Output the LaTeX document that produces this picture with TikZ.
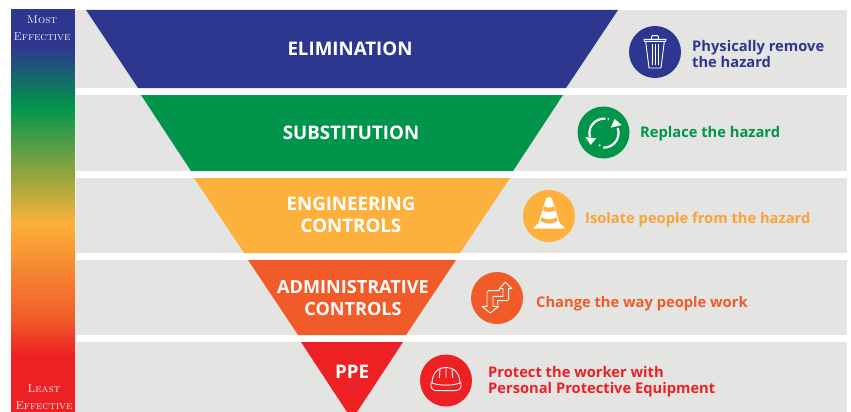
\documentclass[tikz,border=0pt]{standalone}
\usepackage{fontspec}
\usepackage{xcolor}
\newfontfamily\labelfont{Open Sans}
\usetikzlibrary{arrows.meta,positioning,calc}
\definecolor{elimblue}{HTML}{2E3790}
\definecolor{subgreen}{HTML}{00954A}
\definecolor{enggold}{HTML}{FDB03B}
\definecolor{admorange}{HTML}{F15A29}
\definecolor{ppered}{HTML}{ED2024}
\definecolor{bandgray}{HTML}{E4E4E3}
\pgfdeclareverticalshading{effectbar}{100bp}{
  color(0bp)=(ppered); color(32bp)=(ppered); color(36.5bp)=(admorange);
  color(48.5bp)=(enggold); color(63bp)=(subgreen);
  color(70.5bp)=(elimblue); color(100bp)=(elimblue)}

\begin{document}
\begin{tikzpicture}[
  x=1pt, y=-1pt,
  band/.style={fill=bandgray},
  title/.style={font=\labelfont\bfseries\fontsize{18.7}{22}\selectfont, text=white, align=center, inner sep=0pt},
  badge/.style={circle, minimum size=52pt, inner sep=0pt},
  action/.style={font=\labelfont\bfseries\fontsize{14.7}{16}\selectfont, align=left, anchor=west, inner sep=0pt},
  rank/.style={font=\rmfamily\scshape\fontsize{11.3}{17}\selectfont, text=white!90!gray, align=center, inner sep=0pt},
  icon/.style={draw=white, line width=.9pt, line join=round},
  zoomed/.style={shift={#1}, x=.3333pt, y=-.3333pt}
]
  \useasboundingbox (0,0) rectangle (851,412);
  \fill[white] (0,0) rectangle (851,412);

  % grey bands
  \fill[band] (76,10) rectangle (847,88);
  \fill[band] (76,95) rectangle (847,171);
  \fill[band] (76,178) rectangle (847,253);
  \fill[band] (76,260) rectangle (847,335);
  \fill[band] (76,342) rectangle (847,412);

  % left bar
  \path[shading=effectbar] (11,10) rectangle (75,412);
  \node[rank] (most) at (42,28) {Most\\Effective};
  \node[rank] (least) at (44,397) {Least\\Effective};

  % funnel
  \fill[elimblue] (86,10) -- (618,10) -- (566,88) -- (138,88) -- cycle;
  \fill[subgreen] (141,95) -- (563,95) -- (513,171) -- (191,171) -- cycle;
  \fill[enggold] (194,178) -- (510,178) -- (460,253) -- (244,253) -- cycle;
  \fill[admorange] (248,260) -- (456,260) -- (406,335) -- (298,335) -- cycle;
  \fill[ppered] (301,342) -- (403,342) -- (357,412) -- (347,412) -- cycle;

  \node[title] (elim) at (350,49) {ELIMINATION};
  \node[title] (subst) at (351,133) {SUBSTITUTION};
  \node[title] (eng) at (351,215) {ENGINEERING\\CONTROLS};
  \node[title, font=\labelfont\bfseries\fontsize{18.1}{22}\selectfont] (admin) at (353,298) {ADMINISTRATIVE\\CONTROLS};
  \node[title] (ppe) at (352,372) {PPE};

  % badges
  \node[badge, fill=elimblue] (trash) at (655,52) {};
  \node[badge, fill=subgreen] (cycle) at (603.5,132.5) {};
  \node[badge, fill=enggold] (cone) at (549,216) {};
  \node[badge, fill=admorange] (stairs) at (497,298) {};
  \node[badge, fill=ppered] (helmet) at (446,380.5) {};

  % actions
  \node[action, text=elimblue] (remove) at (692,54) {Physically remove\\the hazard};
  \node[action, text=subgreen] (replace) at (640,134) {Replace the hazard};
  \node[action, text=enggold!85!admorange] (isolate) at (585,220) {Isolate people from the hazard};
  \node[action, text=admorange] (change) at (536,304) {Change the way people work};
  \node[action, text=ppered] (protect) at (488,382) {Protect the worker with\\Personal Protective Equipment};

  % trash can
  \begin{scope}[zoomed={(625,22)}]
    \draw[icon] (57,52) -- (123,52) -- (122,58) -- (58,58) -- cycle;
    \draw[icon] (80,52) -- (80,44) -- (82,41) -- (98,41) -- (100,44) -- (100,52);
    \draw[icon] (62,58) -- (72,138) -- (108,138) -- (118,58);
    \draw[icon] (81,66) -- (81,128) (90,66) -- (90,128) (99,66) -- (99,128);
  \end{scope}

  % arrows going round
  \begin{scope}[zoomed={(574,103)}]
    \draw[icon, line width=2.2pt] (94,47) arc[start angle=-85, end angle=-195, radius=44];
    \draw[icon, line width=2.2pt] (88,134) arc[start angle=92, end angle=-20, radius=44];
    \fill[white] (34,102) -- (66,106) -- (50,126) -- cycle;
    \fill[white] (110,74) -- (143,66) -- (122,48) -- cycle;
    \fill[white] (103,48) circle (3) (77,127) circle (3);
  \end{scope}

  % traffic cone
  \begin{scope}[zoomed={(519,186)}]
    \fill[white] (80,42) .. controls (82,30) and (98,30) .. (100,42) -- (122,112)
      .. controls (124,118) and (136,120) .. (136,126) -- (136,128) -- (44,128) -- (44,126)
      .. controls (44,120) and (56,118) .. (58,112) -- cycle;
    \fill[enggold] (76,61) .. controls (84,66) and (96,66) .. (104,61) -- (108,74)
      .. controls (96,79) and (84,79) .. (72,74) -- cycle;
    \fill[enggold] (68,94) .. controls (80,102) and (100,102) .. (112,94) -- (116,105)
      .. controls (100,115) and (80,115) .. (64,105) -- cycle;
  \end{scope}

  % two stepped arrows
  \begin{scope}[zoomed={(467,268)}]
    \draw[icon] (92,110) -- (92,98) -- (120,98) -- (125,93) -- (125,62) -- (135,62) -- (115,42)
      -- (97,62) -- (108,62) -- (108,85) -- (78,85) -- (78,115) -- (95,115) -- (70,135)
      -- (45,115) -- (60,115) -- (60,73) -- (65,68) -- (97,68) -- (97,62);
  \end{scope}

  % hard hat
  \begin{scope}[zoomed={(416,350)}]
    \draw[icon] (48,100) .. controls (48,68) and (68,52) .. (90,52) .. controls (112,52) and (132,68) .. (132,100);
    \draw[icon] (45,98) .. controls (70,108) and (110,108) .. (135,98) -- (135,108)
      .. controls (135,118) and (125,122) .. (115,122) -- (65,122)
      .. controls (55,122) and (45,118) .. (45,108) -- cycle;
    \draw[icon] (72,58) -- (70,84) (90,52) -- (90,84) (108,58) -- (110,84);
  \end{scope}
\end{tikzpicture}
\end{document}
